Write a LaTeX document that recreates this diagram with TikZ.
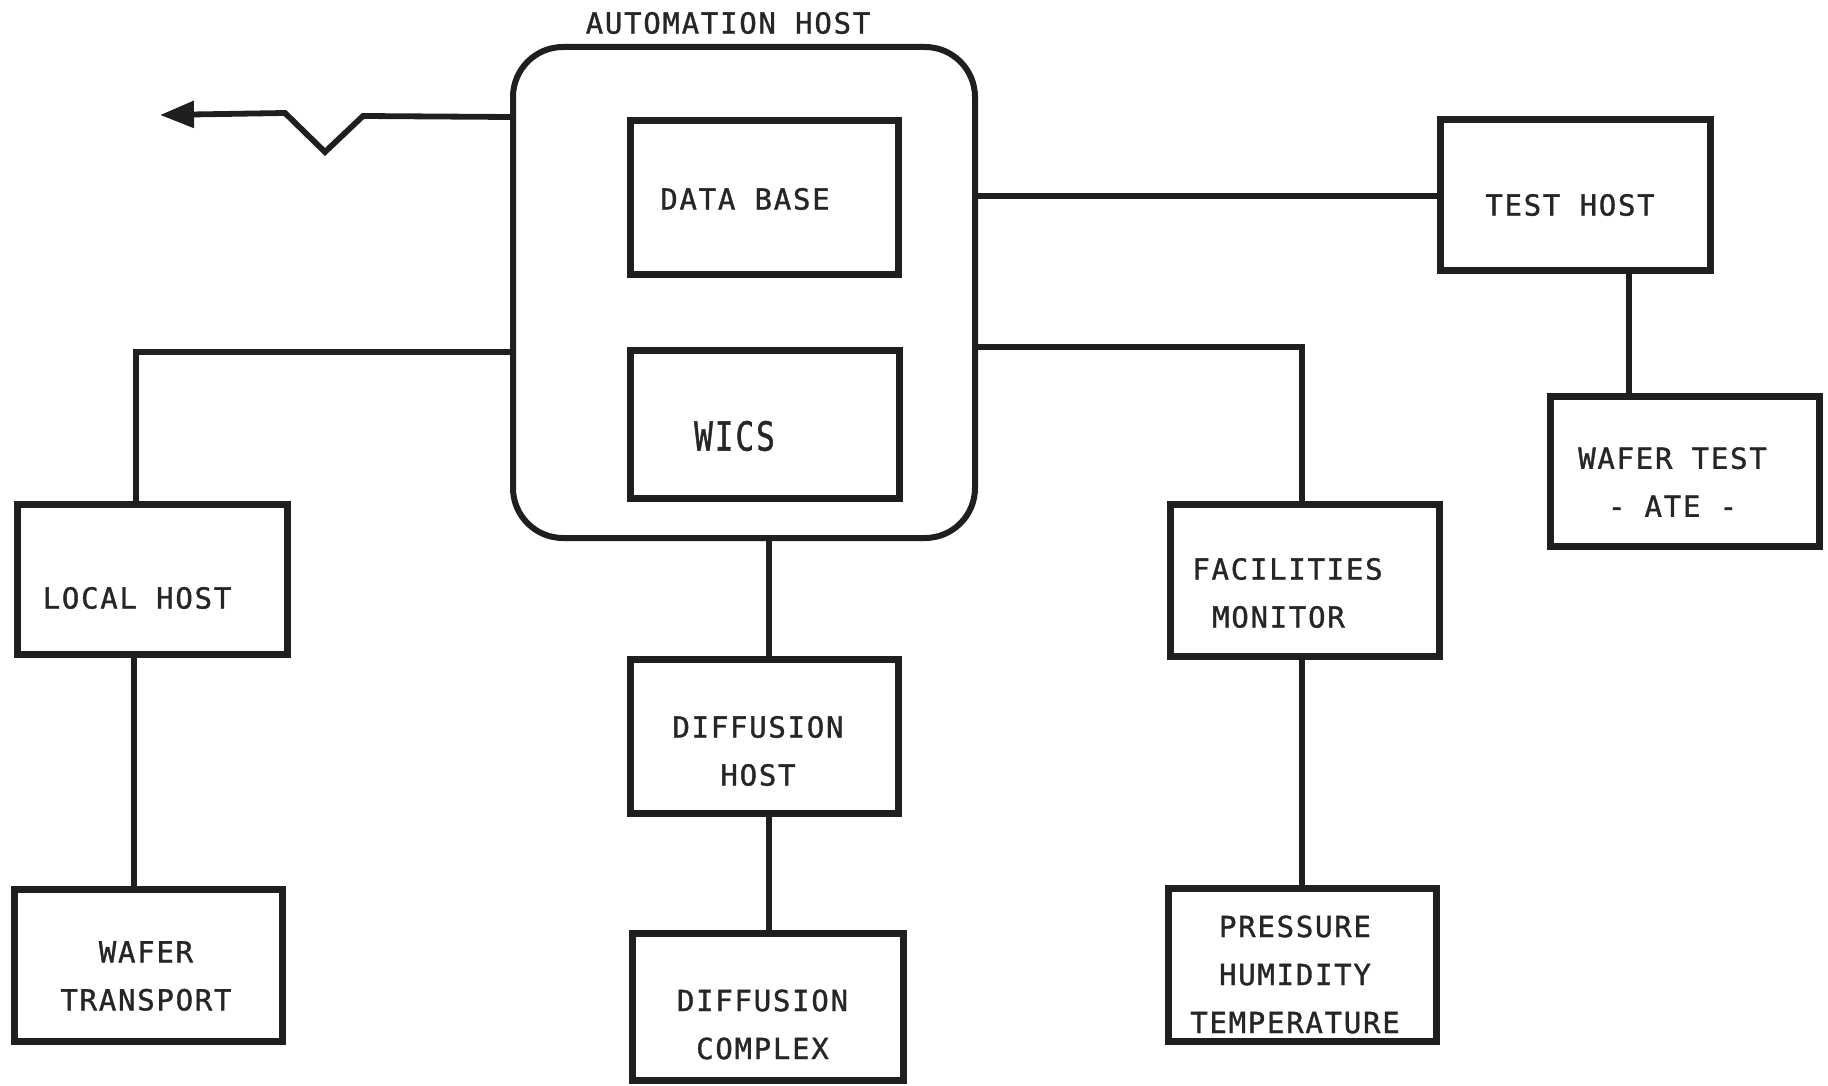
\documentclass[tikz,border=0pt]{standalone}
\usepackage{fontspec}
\usetikzlibrary{fit,arrows.meta}
\newfontfamily\twfont[LetterSpace=6,FakeBold=1.2]{DejaVu Sans Mono}
\begin{document}
\begin{tikzpicture}[x=0.5pt,y=-0.5pt,
  box/.style={draw=black!88, line width=3.5pt, inner sep=0pt},
  hostbox/.style={draw=black!88, line width=3pt, inner sep=0pt, rounded corners=25pt},
  conn/.style={draw=black!88, line width=2.9pt},
  txt/.style={font=\twfont\fontsize{14.5pt}{24pt}\selectfont, align=center, inner sep=0pt, text=black!85}
]
\useasboundingbox (0,0) rectangle (1828,1086);

% automation host
\node[hostbox, fit={(513,47) (975,538)}] (ah) {};
\node[txt] (ahl) at (728,23) {AUTOMATION HOST};
\node[box, fit={(630,121) (898,274)}, label={[txt,shift={(-19,1.5)}]center:DATA BASE}] (db) {};
\node[box, fit={(630,350) (899,498)}, label={[txt,font=\twfont\fontsize{20pt}{24pt}\selectfont,shift={(-30,12)}]center:{\scalebox{0.78}[1]{WICS}}}] (wics) {};

% other boxes
\node[box, fit={(17,504) (287,654)}, label={[txt,shift={(-15,19)}]center:LOCAL HOST}] (lh) {};
\node[box, fit={(14,889) (282,1041)}, label={[txt,shift={(-2,11)}]center:{WAFER\\TRANSPORT}}] (wt) {};
\node[box, fit={(630,659) (898,813)}, label={[txt,shift={(-6,15)}]center:{DIFFUSION\\HOST}}] (dh) {};
\node[box, fit={(632,933) (903,1080)}, label={[txt,shift={(-5,18)}]center:{DIFFUSION\\COMPLEX}}] (dc) {};
\node[box, fit={(1440,120) (1710,270)}, label={[txt,shift={(-5,10)}]center:TEST HOST}] (th) {};
\node[box, fit={(1550,396) (1819,546)}, label={[txt,shift={(-12,11)}]center:{WAFER TEST\\- ATE -}}] (wte) {};
\node[box, fit={(1170,504) (1439,656)}, label={[txt,shift={(-17,13)}]center:{FACILITIES\\MONITOR\hspace*{9pt}}}] (fm) {};
\node[box, fit={(1168,888) (1436,1041)}, label={[txt,shift={(-7,10)}]center:{PRESSURE\\HUMIDITY\\TEMPERATURE}}] (pr) {};

% reference levels
\coordinate (yA) at (0,117);
\coordinate (yL) at (0,352);
\coordinate (yT) at (0,196);
\coordinate (yF) at (0,347);
\coordinate (xL) at (136,0);
\coordinate (xLb) at (134,0);
\coordinate (xD) at (769,0);
\coordinate (xT) at (1629,0);
\coordinate (xF) at (1302,0);
\coordinate (tip) at (160,115);

% connectors
\draw[conn, -{Triangle[length=17pt,width=13pt]}] (ah.west |- yA) -- (363,116) -- (325,152) -- (285,113) -- (tip);
\draw[conn] (ah.west |- yL) -- (xL |- yL) -- (xL |- lh.north);
\draw[conn] (xLb |- lh.south) -- (xLb |- wt.north);
\draw[conn] (xD |- ah.south) -- (xD |- dh.north);
\draw[conn] (xD |- dh.south) -- (xD |- dc.north);
\draw[conn] (ah.east |- yT) -- (th.west |- yT);
\draw[conn] (xT |- th.south) -- (xT |- wte.north);
\draw[conn] (ah.east |- yF) -- (xF |- yF) -- (xF |- fm.north);
\draw[conn] (xF |- fm.south) -- (xF |- pr.north);
\end{tikzpicture}
\end{document}
